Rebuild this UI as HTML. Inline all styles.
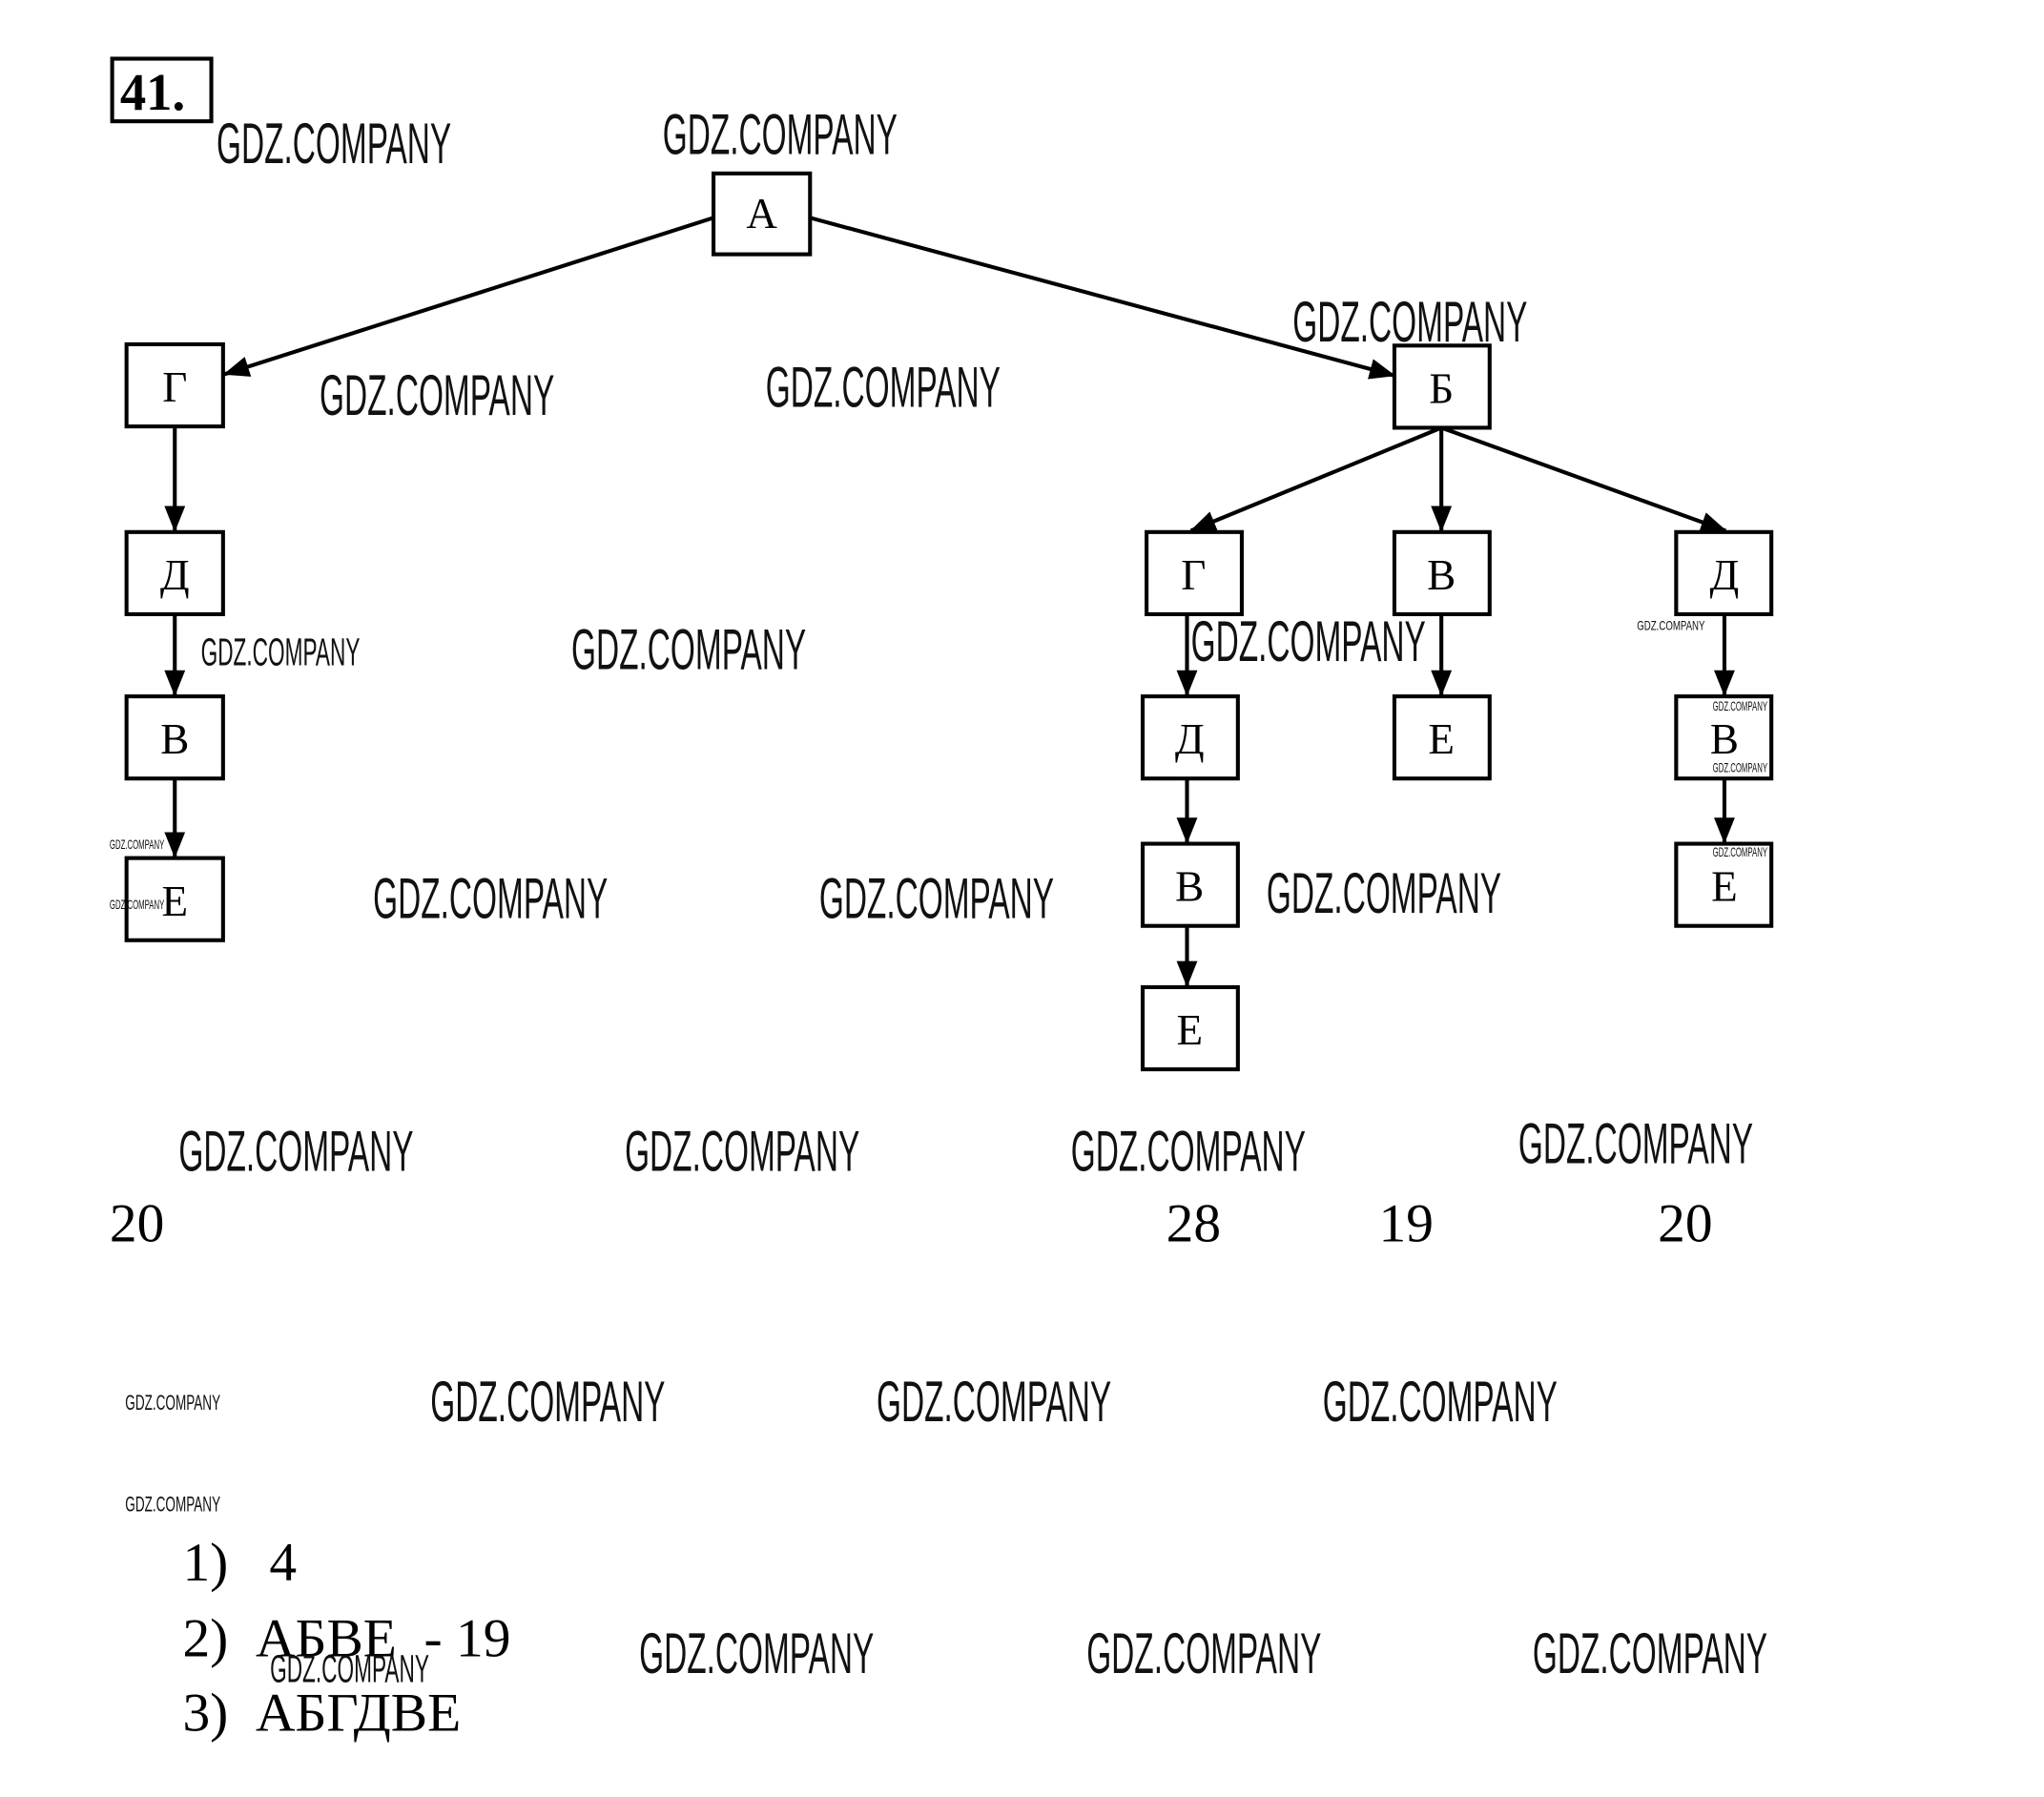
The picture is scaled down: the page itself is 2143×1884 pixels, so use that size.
<!DOCTYPE html>
<html><head><meta charset="utf-8"><style>
html,body{margin:0;padding:0;background:#fff;}
svg{display:block;}
.w{font-family:"Liberation Sans",sans-serif;fill:#111;}
.n{font-family:"Liberation Serif","Noto Serif CJK SC",serif;fill:#000;}
</style></head><body>
<svg width="2143" height="1884" viewBox="0 0 1567 1378" preserveAspectRatio="none" xmlns="http://www.w3.org/2000/svg">
<defs>
<marker id="b" markerWidth="20" markerHeight="16" refX="19" refY="8" orient="auto" markerUnits="userSpaceOnUse"><path d="M0,0 L20,8 L0,16 Z" fill="#000"/></marker></defs>
<rect x="86" y="45" width="76" height="48" fill="none" stroke="#000" stroke-width="3"/>
<text x="92" y="84" class="n" font-size="40" font-weight="bold">41.</text>
<g fill="#fff" stroke="#000" stroke-width="3">
<rect x="547" y="133" width="74" height="62"/>
<rect x="97" y="264" width="74" height="63"/>
<rect x="97" y="408" width="74" height="63"/>
<rect x="97" y="534" width="74" height="63"/>
<rect x="97" y="658" width="74" height="63"/>
<rect x="1069" y="265" width="73" height="63"/>
<rect x="879" y="408" width="73" height="63"/>
<rect x="1069" y="408" width="73" height="63"/>
<rect x="1285" y="408" width="73" height="63"/>
<rect x="876" y="534" width="73" height="63"/>
<rect x="1069" y="534" width="73" height="63"/>
<rect x="1285" y="534" width="73" height="63"/>
<rect x="876" y="647" width="73" height="63"/>
<rect x="1285" y="647" width="73" height="63"/>
<rect x="876" y="757" width="73" height="63"/>
</g>
<g stroke="#000" stroke-width="3" marker-end="url(#b)">
<line x1="547" y1="167" x2="172" y2="287"/>
<line x1="621" y1="167" x2="1069" y2="288"/>
<line x1="134" y1="327" x2="134" y2="407"/>
<line x1="134" y1="471" x2="134" y2="533"/>
<line x1="134" y1="597" x2="134" y2="657"/>
<line x1="1105" y1="328" x2="913" y2="407"/>
<line x1="1105" y1="328" x2="1105" y2="407"/>
<line x1="1105" y1="328" x2="1323" y2="407"/>
<line x1="910" y1="471" x2="910" y2="533"/>
<line x1="1105" y1="471" x2="1105" y2="533"/>
<line x1="1322" y1="471" x2="1322" y2="533"/>
<line x1="910" y1="597" x2="910" y2="646"/>
<line x1="1322" y1="597" x2="1322" y2="646"/>
<line x1="910" y1="710" x2="910" y2="756"/>
</g>
<g class="n" font-size="33" text-anchor="middle">
<text x="584" y="175">А</text>
<text x="134" y="308">Г</text>
<text x="134" y="452">Д</text>
<text x="134" y="578">В</text>
<text x="134" y="702">Е</text>
<text x="1105" y="309">Б</text>
<text x="915" y="452">Г</text>
<text x="1105" y="452">В</text>
<text x="1322" y="452">Д</text>
<text x="912" y="578">Д</text>
<text x="1105" y="578">Е</text>
<text x="1322" y="578">В</text>
<text x="912" y="691">В</text>
<text x="1322" y="691">Е</text>
<text x="912" y="801">Е</text>
</g>
<g class="n" font-size="42">
<text x="84" y="952">20</text>
<text x="894" y="952">28</text>
<text x="1057" y="952">19</text>
<text x="1271" y="952">20</text>
<text x="140" y="1212">1)&#160;&#160;&#160;4</text>
<text x="140" y="1270">2)&#160;&#160;АБВЕ&#160;&#160;- 19</text>
<text x="140" y="1327">3)&#160;&#160;АБГДВЕ</text>
</g>
<g class="w" font-size="44">
<text x="166" y="125" textLength="180" lengthAdjust="spacingAndGlyphs">GDZ.COMPANY</text>
<text x="508" y="118" textLength="180" lengthAdjust="spacingAndGlyphs">GDZ.COMPANY</text>
<text x="991" y="262" textLength="180" lengthAdjust="spacingAndGlyphs">GDZ.COMPANY</text>
<text x="245" y="318" textLength="180" lengthAdjust="spacingAndGlyphs">GDZ.COMPANY</text>
<text x="587" y="312" textLength="180" lengthAdjust="spacingAndGlyphs">GDZ.COMPANY</text>
<text x="438" y="513" textLength="180" lengthAdjust="spacingAndGlyphs">GDZ.COMPANY</text>
<text x="913" y="507" textLength="180" lengthAdjust="spacingAndGlyphs">GDZ.COMPANY</text>
<text x="286" y="704" textLength="180" lengthAdjust="spacingAndGlyphs">GDZ.COMPANY</text>
<text x="628" y="704" textLength="180" lengthAdjust="spacingAndGlyphs">GDZ.COMPANY</text>
<text x="971" y="700" textLength="180" lengthAdjust="spacingAndGlyphs">GDZ.COMPANY</text>
<text x="137" y="898" textLength="180" lengthAdjust="spacingAndGlyphs">GDZ.COMPANY</text>
<text x="479" y="898" textLength="180" lengthAdjust="spacingAndGlyphs">GDZ.COMPANY</text>
<text x="821" y="898" textLength="180" lengthAdjust="spacingAndGlyphs">GDZ.COMPANY</text>
<text x="1164" y="892" textLength="180" lengthAdjust="spacingAndGlyphs">GDZ.COMPANY</text>
<text x="330" y="1090" textLength="180" lengthAdjust="spacingAndGlyphs">GDZ.COMPANY</text>
<text x="672" y="1090" textLength="180" lengthAdjust="spacingAndGlyphs">GDZ.COMPANY</text>
<text x="1014" y="1090" textLength="180" lengthAdjust="spacingAndGlyphs">GDZ.COMPANY</text>
<text x="490" y="1283" textLength="180" lengthAdjust="spacingAndGlyphs">GDZ.COMPANY</text>
<text x="833" y="1283" textLength="180" lengthAdjust="spacingAndGlyphs">GDZ.COMPANY</text>
<text x="1175" y="1283" textLength="180" lengthAdjust="spacingAndGlyphs">GDZ.COMPANY</text>
</g>
<g class="w" font-size="30">
<text x="154" y="510" textLength="122" lengthAdjust="spacingAndGlyphs">GDZ.COMPANY</text>
<text x="207" y="1290" textLength="122" lengthAdjust="spacingAndGlyphs">GDZ.COMPANY</text>
</g>
<g class="w" font-size="16">
<text x="96" y="1081" textLength="73" lengthAdjust="spacingAndGlyphs">GDZ.COMPANY</text>
<text x="96" y="1159" textLength="73" lengthAdjust="spacingAndGlyphs">GDZ.COMPANY</text>
</g>
<g class="w" font-size="10">
<text x="1255" y="483" textLength="52" lengthAdjust="spacingAndGlyphs">GDZ.COMPANY</text>
<text x="84" y="651" textLength="42" lengthAdjust="spacingAndGlyphs">GDZ.COMPANY</text>
<text x="84" y="697" textLength="42" lengthAdjust="spacingAndGlyphs">GDZ.COMPANY</text>
<text x="1313" y="545" textLength="42" lengthAdjust="spacingAndGlyphs">GDZ.COMPANY</text>
<text x="1313" y="592" textLength="42" lengthAdjust="spacingAndGlyphs">GDZ.COMPANY</text>
<text x="1313" y="657" textLength="42" lengthAdjust="spacingAndGlyphs">GDZ.COMPANY</text>
</g>
</svg>
</body></html>
